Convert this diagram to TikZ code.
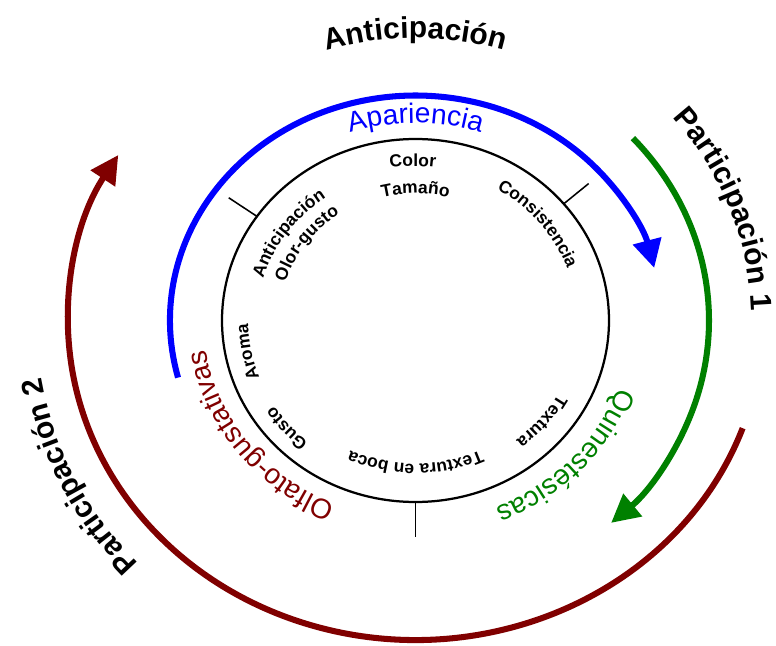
\documentclass[tikz,border=0pt]{standalone}
\usepackage{fontspec}
\setmainfont{Liberation Sans}
\usetikzlibrary{arrows.meta,decorations.text}
\definecolor{grn}{RGB}{0,128,0}
\definecolor{dred}{RGB}{128,0,0}

\newcommand\smallfont{\fontsize{12.4}{14}\selectfont\bfseries}
\newcommand\midfont{\fontsize{20}{24}\selectfont}
\newcommand\bigfont{\fontsize{21.3}{25}\selectfont\bfseries}
% #1 centre angle, #2 x radius, #3 y radius, #4 font, #5 colour, #6 text
\newcommand\arclabel[6]{%
  \path[decorate,decoration={text along path,text align=center,text color=#5,text={|#4|#6}}]
    ({#1+70}:#2 and #3) arc[start angle={#1+70},end angle={#1-70},x radius=#2,y radius=#3];}

\begin{document}
\begin{tikzpicture}[x=0.025cm,y=0.025cm,
  ring/.style={line width=4.3pt,-{Triangle[length=20pt,width=20pt]}},
  tick/.style={line width=1.1pt}]
\useasboundingbox (-415.5,-324.5) rectangle (360.5,320.5);

% inner circle and its three dividers
\draw[line width=1.6pt] (0,0) ellipse[x radius=193.5,y radius=181.5];
\draw[tick] (40:193.5 and 181.5) -- (40:226 and 213);
\draw[tick] (145:193.5 and 181.5) -- (145:228 and 214);
\draw[tick] (270:193.5 and 181.5) -- (270:228 and 216);

% arrows
\draw[ring,blue] (194.7:245.5 and 225) arc[start angle=194.7,end angle=13.5,x radius=245.5,y radius=225];
\draw[ring,grn] (42.2:293.5 and 271.5) arc[start angle=42.2,end angle=-48.2,x radius=293.5,y radius=271.5];
\draw[ring,dred] (-19.7:347.5 and 319.5) arc[start angle=-19.7,end angle=-211.2,x radius=347.5,y radius=319.5];

% outer labels
\arclabel{90}{301}{282.5}{\bigfont}{black}{Anticipación}
\arclabel{20}{336}{316}{\bigfont}{black}{Participación 1}
\arclabel{-155}{379.3}{355.7}{\bigfont}{black}{Participación 2}

% coloured labels
\arclabel{90}{210.5}{197.5}{\midfont}{blue}{Apariencia}
\arclabel{-42.5}{214.8}{201.5}{\midfont}{grn}{Quinestésicas}
\arclabel{-143}{211.7}{198.6}{\midfont}{dred}{Olfato-gustativas}

% inner labels
\arclabel{91}{164.5}{154.3}{\smallfont}{black}{Color}
\arclabel{90}{135.5}{127}{\smallfont}{black}{Tamaño}
\arclabel{38.5}{161.6}{151.6}{\smallfont}{black}{Consistencia}
\arclabel{-38.8}{162.5}{152.5}{\smallfont}{black}{Textura}
\arclabel{-90}{152.9}{143.4}{\smallfont}{black}{Textura en boca}
\arclabel{-140}{168.3}{157.9}{\smallfont}{black}{Gusto}
\arclabel{-169.4}{167.4}{157}{\smallfont}{black}{Aroma}
\arclabel{145.3}{158.7}{148.8}{\smallfont}{black}{Anticipación}
\arclabel{144.5}{136.4}{128}{\smallfont}{black}{Olor-gusto}
\end{tikzpicture}
\end{document}
